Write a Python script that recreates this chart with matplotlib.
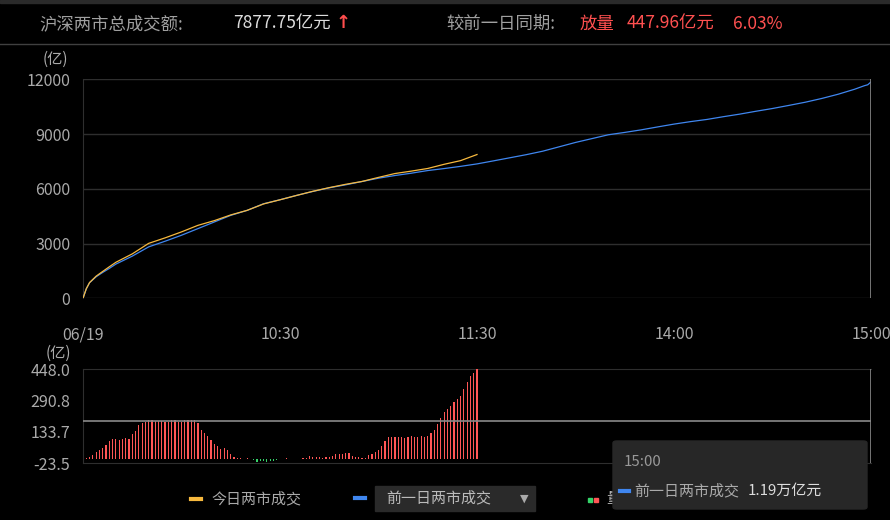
import matplotlib
matplotlib.use('Agg')
import matplotlib.pyplot as plt
from matplotlib.patches import FancyBboxPatch, Rectangle

plt.rcParams['font.family'] = ['Noto Sans CJK SC', 'DejaVu Sans']

# minutes since 9:30 (trading time, lunch break removed)
tick_pos = [0, 60, 120, 180, 240]
tick_labels = ['06/19', '10:30', '11:30', '14:00', '15:00']

# yesterday cumulative turnover (亿)
yest_t = [0, 1, 2, 4, 6, 8, 10, 15, 20, 25, 30, 35, 40, 45, 50, 55, 60, 65, 70, 75,
          80, 85, 90, 95, 100, 105, 110, 115, 120, 125, 130, 135, 140, 145, 150, 155,
          160, 165, 170, 175, 180, 185, 190, 195, 200, 205, 210, 215, 220, 225, 230,
          235, 238, 239, 240]
yest_v = [0, 520, 855, 1180, 1418, 1636, 1873, 2309, 2818, 3127, 3455, 3818, 4182,
          4545, 4818, 5182, 5400, 5636, 5855, 6055, 6218, 6400, 6582, 6727, 6855, 7000,
          7109, 7230, 7364, 7530, 7700, 7870, 8060, 8300, 8540, 8750, 8960, 9090, 9230,
          9390, 9545, 9680, 9800, 9950, 10091, 10250, 10400, 10570, 10745, 10950, 11182,
          11455, 11650, 11700, 11855]

# today cumulative turnover (亿), morning only
today_t = [0, 1, 2, 4, 6, 8, 10, 15, 20, 25, 30, 35, 40, 45, 50, 55, 60, 65, 70, 75,
           80, 85, 90, 95, 100, 105, 110, 115, 120]
today_v = [0, 523, 862, 1213, 1472, 1725, 1972, 2433, 3010, 3311, 3639, 3997, 4256,
           4568, 4820, 5170, 5398, 5634, 5863, 6065, 6246, 6403, 6625, 6836, 6969,
           7114, 7343, 7544, 7877.75]

# difference today - yesterday per minute (亿)
diff_v = [-1, 3, 7, 18, 33, 43, 54, 69, 89, 97, 99, 94, 99, 104, 99, 124, 139, 169,
          179, 184, 192, 192, 191, 191, 191, 184, 184, 192, 192, 184, 184, 192, 192,
          192, 192, 179, 145, 129, 115, 94, 74, 64, 48, 54, 43, 23, 8, 3, 3, -2, 2, -1,
          -6, -15, -12, -12, -17, -12, -12, -8, -2, -3, 1, -1, -2, -2, -2, 2, 3, 13, 8,
          8, 8, 5, 8, 10, 15, 23, 23, 23, 28, 30, 13, 8, 8, 3, 5, 20, 25, 33, 43, 64,
          89, 109, 109, 109, 109, 109, 104, 109, 114, 109, 109, 114, 109, 114, 129,
          144, 174, 204, 234, 249, 264, 284, 299, 314, 349, 383, 413, 431, 447.96]
diff_t = list(range(len(diff_v)))

top_ticks = [0, 3000, 6000, 9000, 12000]
bot_ticks = [-23.5, 133.7, 290.8, 448.0]
crosshair_y = 188.7

BG = '#000000'
GRID = '#2e2e2e'
TXT = '#aaaaaa'
ORANGE = '#f7b93e'
BLUE = '#3f86ef'
RED = '#ff5656'
GREEN = '#35d46a'

W, H = 890, 520
fig = plt.figure(figsize=(W / 100, H / 100), dpi=100, facecolor=BG)


def box(x0, y0, x1, y1):
    return [x0 / W, 1 - y1 / H, (x1 - x0) / W, (y1 - y0) / H]


def fx(x):
    return x / W


def fy(y):
    return 1 - y / H


# header
fig.patches.append(Rectangle((0, fy(3)), 1, 3 / H, transform=fig.transFigure,
                             color='#2a2a2a', zorder=0))
fig.add_artist(plt.Line2D([0, 1], [fy(44), fy(44)], color='#404040', lw=1))
fig.text(fx(39), fy(24), '沪深两市总成交额:', color='#a0a0a0', fontsize=12.5, va='center')
fig.text(fx(233), fy(24), '7877.75亿元', color='#dddddd', fontsize=12.5, va='center')
fig.text(fx(336), fy(23), '↑', color='#ff4d4d', fontsize=13, va='center',
         fontweight='bold', family=['DejaVu Sans'])
fig.text(fx(446), fy(24), '较前一日同期:', color='#a0a0a0', fontsize=12.5, va='center')
fig.text(fx(580), fy(24), '放量', color='#ff5050', fontsize=12.5, va='center')
fig.text(fx(627), fy(24), '447.96亿元', color='#ff5050', fontsize=12.5, va='center')
fig.text(fx(733), fy(24), '6.03%', color='#ff5050', fontsize=12.5, va='center')

# top chart
ax1 = fig.add_axes(box(83, 79.3, 871, 298.3), facecolor=BG)
ax1.plot(yest_t, yest_v, color=BLUE, lw=0.9, zorder=3)
ax1.plot(today_t, today_v, color=ORANGE, lw=0.9, zorder=4)
ax1.set_xlim(0, 240)
ax1.set_ylim(0, 12000)
ax1.set_yticks(top_ticks)
ax1.set_yticklabels([str(v) for v in top_ticks])
ax1.set_xticks(tick_pos)
ax1.set_xticklabels(tick_labels)
ax1.grid(axis='y', color=GRID, lw=1)
ax1.axvline(240, color='#8a8a8a', lw=1.2, zorder=5)
for s in ['top', 'right', 'bottom']:
    ax1.spines[s].set_visible(False)
ax1.spines['left'].set_color(GRID)
ax1.tick_params(length=0, colors=TXT, labelsize=11.5)
ax1.tick_params(axis='y', pad=9)
ax1.tick_params(axis='x', pad=20)
fig.text(fx(55), fy(59), '(亿)', color=TXT, fontsize=11, ha='center', va='center')

# bottom chart
ax2 = fig.add_axes(box(83, 369.3, 871, 463.3), facecolor=BG)
colors = [RED if v >= 0 else GREEN for v in diff_v]
ax2.bar(diff_t, diff_v, width=0.36, color=colors, zorder=3)
ax2.set_xlim(0, 240)
ax2.set_ylim(-23.5, 448)
ax2.set_yticks(bot_ticks)
ax2.set_yticklabels(['%.1f' % v for v in bot_ticks])
ax2.set_xticks([])
ax2.axhline(crosshair_y, color='#8a8a8a', lw=1.2, zorder=4)
ax2.axvline(240, color='#8a8a8a', lw=1.2, zorder=5)
for s in ['top', 'bottom', 'left']:
    ax2.spines[s].set_color(GRID)
ax2.spines['right'].set_visible(False)
ax2.tick_params(length=0, colors=TXT, labelsize=11.5, pad=9)
fig.text(fx(58), fy(353), '(亿)', color=TXT, fontsize=11, ha='center', va='center')

# legend
fig.add_artist(plt.Line2D([fx(191), fx(201)], [fy(499), fy(499)], color=ORANGE, lw=3))
fig.text(fx(211), fy(499), '今日两市成交', color=TXT, fontsize=10.8, va='center')
fig.patches.append(Rectangle((fx(375), fy(511)), 160 / W, 25 / H,
                             transform=fig.transFigure, color='#2a2a2a', zorder=1))
fig.add_artist(plt.Line2D([fx(355), fx(365)], [fy(498), fy(498)], color=BLUE, lw=3))
fig.text(fx(386), fy(498), '前一日两市成交', color='#bbbbbb', fontsize=10.8, va='center',
         zorder=2)
fig.text(fx(524), fy(499), '▼', color='#aaaaaa', fontsize=8, ha='center', va='center',
         family=['DejaVu Sans'], zorder=2)
fig.patches.append(Rectangle((fx(588), fy(502)), 4 / W, 4 / H, transform=fig.transFigure,
                             color=GREEN, zorder=1))
fig.patches.append(Rectangle((fx(594), fy(502)), 4 / W, 4 / H, transform=fig.transFigure,
                             color=RED, zorder=1))
fig.text(fx(606), fy(499), '量差', color='#bbbbbb', fontsize=10.8, va='center', zorder=1)

# tooltip
tip = FancyBboxPatch((fx(613), fy(509)), 254 / W, 68 / H, transform=fig.transFigure,
                     boxstyle='round,pad=0,rounding_size=0.004', fc='#272727',
                     ec='#272727', zorder=10)
fig.patches.append(tip)
fig.text(fx(624), fy(462), '15:00', color='#999999', fontsize=10.8, va='center', zorder=11)
fig.add_artist(plt.Line2D([fx(620), fx(629)], [fy(491), fy(491)], color=BLUE, lw=3,
                          zorder=11))
fig.text(fx(634), fy(491), '前一日两市成交', color='#aaaaaa', fontsize=10.8, va='center',
         zorder=11)
fig.text(fx(748), fy(491), '1.19万亿元', color='#dddddd', fontsize=10.8, va='center',
         zorder=11)

fig.savefig('out.png', dpi=100, facecolor=BG)
